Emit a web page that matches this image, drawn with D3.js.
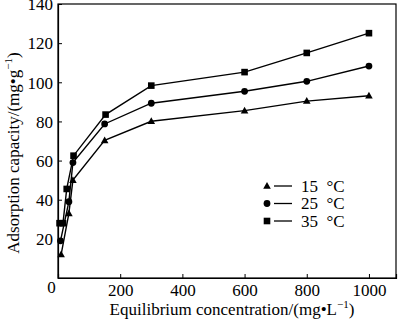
<!DOCTYPE html>
<html><head><meta charset="utf-8">
<script src="https://cdn.jsdelivr.net/npm/d3@7"></script>
<style>body{margin:0;background:#fff}svg{display:block}text{font-family:"Liberation Serif","Times New Roman",serif;fill:#000}</style>
</head><body><svg id="c" width="400" height="325"></svg>
<script>
const xTicks=[0,200,400,600,800,1000];
const yTicks=[0,20,40,60,80,100,120,140];
const seriesNames=["15\u2002°C","25\u2002°C","35\u2002°C"];
const symbols=["triangle","circle","square"];
const x15=[10,35,48,150,300,600,800,1000];
const y15=[12,33,50,70.3,80.1,85.5,90.4,93.1];
const x25=[8,35,48,150,300,600,800,1000];
const y25=[19,39,59,78.7,89.3,95.4,100.5,108.3];
const x35=[5,16,28,50,153,300,600,800,1000];
const y35=[28,28,45.5,62.5,83.5,98.3,105.2,115,125.1];

const svg=d3.select("#c");
const L=58,R=396,T=4,B=278;
const FS="17px";
const x=d3.scaleLinear().domain([0,1087]).range([L,R]);
const y=d3.scaleLinear().domain([0,140]).range([B,T]);

svg.append("rect").attr("x",L).attr("y",T).attr("width",R-L).attr("height",B-T)
  .attr("fill","none").attr("stroke","#000").attr("stroke-width",1.2);

const xa=svg.append("g").attr("transform",`translate(0,${B})`)
  .call(d3.axisBottom(x).tickValues(xTicks.slice(1)).tickSize(-4).tickPadding(6).tickFormat(d3.format("d")));
const ya=svg.append("g").attr("transform",`translate(${L},0)`)
  .call(d3.axisLeft(y).tickValues(yTicks.slice(1)).tickSize(-4).tickPadding(5).tickFormat(d3.format("d")));
[xa,ya].forEach(g=>{g.select(".domain").attr("stroke","#000").attr("stroke-width",1.2);
  g.selectAll(".tick line").attr("stroke","#000").attr("stroke-width",1);
  g.selectAll("text").style("font-size",FS).style("font-family","Liberation Serif");});
ya.selectAll("text").attr("dy","0.34em");
svg.append("text").attr("x",51.5).attr("y",293).attr("text-anchor","middle").style("font-size",FS).text(yTicks[0]);

const data=[[x15,y15],[x25,y25],[x35,y35]];
const line=d3.line().x(d=>x(d[0])).y(d=>y(d[1]));
function marker(g,type,cx,cy){
  if(type==="square") g.append("rect").attr("x",cx-3.3).attr("y",cy-3.3).attr("width",6.6).attr("height",6.6).attr("fill","#000");
  else if(type==="circle") g.append("circle").attr("cx",cx).attr("cy",cy).attr("r",3.4).attr("fill","#000");
  else g.append("path").attr("d",`M${cx},${cy-4}L${cx+3.8},${cy+2.8}L${cx-3.8},${cy+2.8}Z`).attr("fill","#000");
}
data.forEach((s,i)=>{
  const pts=s[0].map((v,j)=>[v,s[1][j]]);
  svg.append("path").attr("d",line(pts)).attr("fill","none").attr("stroke","#000").attr("stroke-width",1.4);
  const g=svg.append("g");
  pts.forEach(p=>marker(g,symbols[i],x(p[0]),y(p[1])));
});

seriesNames.forEach((n,i)=>{
  const cy=186+i*17.5;
  const g=svg.append("g");
  marker(g,symbols[i],267,cy);
  g.append("line").attr("x1",274).attr("x2",292).attr("y1",cy).attr("y2",cy).attr("stroke","#000").attr("stroke-width",1.3);
  g.append("text").attr("x",301).attr("y",cy+5.5).style("font-size",FS).text(n);
});

svg.append("text").attr("x",232).attr("y",315).attr("text-anchor","middle").style("font-size",FS)
  .html('Equilibrium concentration/(mg<tspan>•</tspan>L<tspan dy="-7" font-size="11">−1</tspan><tspan dy="7">)</tspan>');
svg.append("text").attr("transform","translate(19,153) rotate(-90)").attr("text-anchor","middle").style("font-size",FS)
  .html('Adsorption capacity/(mg<tspan>•</tspan>g<tspan dy="-7" font-size="11">−1</tspan><tspan dy="7">)</tspan>');
</script></body></html>
